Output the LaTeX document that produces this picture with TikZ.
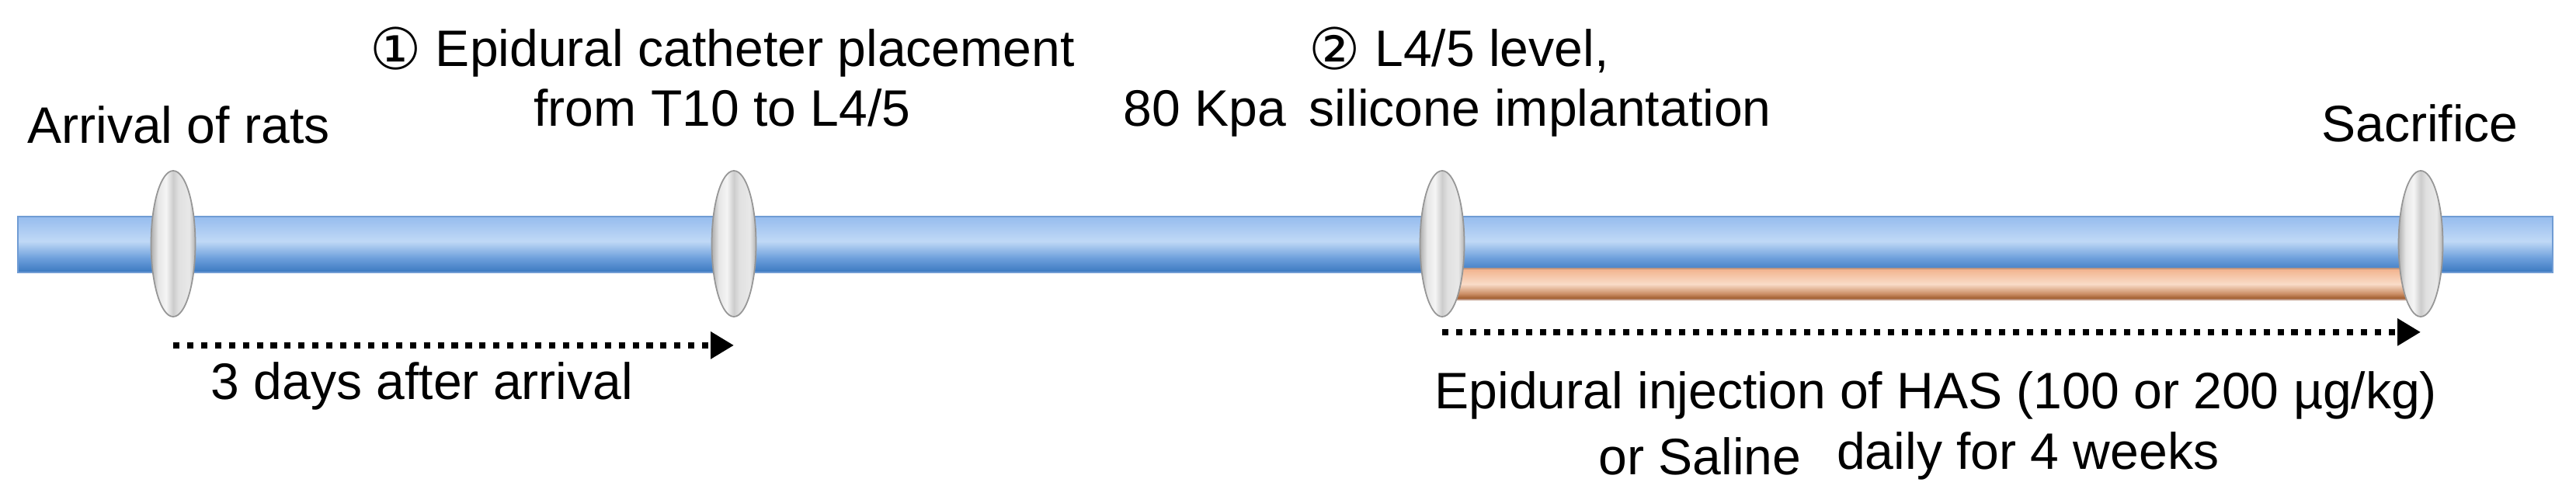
\documentclass[tikz,border=0pt]{standalone}
\usepackage{fontspec}
\setmainfont{Liberation Sans}
\newfontfamily\circfont{DejaVu Sans}
\usepackage{tikz}
\usetikzlibrary{shapes.geometric,arrows.meta}

\definecolor{barline}{RGB}{112,156,212}
\definecolor{blueD}{RGB}{58,120,192}
\definecolor{blueM}{RGB}{110,160,220}
\definecolor{blueL}{RGB}{192,217,246}
\definecolor{blueT}{RGB}{150,188,238}
\definecolor{copD}{RGB}{150,80,32}
\definecolor{copM}{RGB}{205,145,105}
\definecolor{copL}{RGB}{249,220,200}
\definecolor{copT}{RGB}{242,178,140}
\definecolor{copline}{RGB}{190,150,130}
\definecolor{discline}{RGB}{150,150,150}

\pgfdeclareverticalshading{bluebar}{100bp}{color(0bp)=(blueD); color(25bp)=(blueD);
  color(38bp)=(blueM); color(53bp)=(blueL); color(75bp)=(blueT); color(100bp)=(blueT)}
\pgfdeclareverticalshading{copperbar}{100bp}{color(0bp)=(copD); color(25bp)=(copD);
  color(35bp)=(copM); color(50bp)=(copL); color(75bp)=(copT); color(100bp)=(copT)}
\pgfdeclarehorizontalshading{silver}{100bp}{color(0bp)=(black!32); color(25bp)=(black!32);
  color(33bp)=(black!10); color(42bp)=(black!4); color(50bp)=(black!20);
  color(56bp)=(black!12); color(68bp)=(black!9); color(75bp)=(black!30); color(100bp)=(black!30)}

\newcommand{\circnum}[1]{\raisebox{-0.06em}{\scalebox{1.12}{\circfont #1}}}

\begin{document}
\begin{tikzpicture}
    [bar/.style={shade,shading=bluebar,draw=barline,line width=0.6pt},
    copper bar/.style={shade,shading=copperbar,draw=copline,line width=0.4pt},
    disc/.style={ellipse,shade,shading=silver,draw=discline,line width=0.5pt,
      minimum width=0.57cm,minimum height=1.88cm,inner sep=0pt},
    day arrow/.style={line width=2.3pt,dash pattern=on 2.3pt off 2.8pt,
      -{Triangle[length=8.5pt,width=9.5pt]}},
    note/.style={inner sep=0pt,font=\fontsize{18.8pt}{22pt}\selectfont}]

\useasboundingbox (0,0) rectangle (33.17,6.48);

%time line
\path[bar] (0.23,2.97) rectangle (32.87,3.69);
\path[copper bar] (18.57,2.62) rectangle (31.17,3.02);

%time points
\node[disc] (t1) at (2.23,3.34) {};
\node[disc] (t2) at (9.45,3.34) {};
\node[disc] (t3) at (18.57,3.34) {};
\node[disc] (t4) at (31.17,3.34) {};

%periods
\draw[day arrow] ([yshift=-0.36cm]t1.south) -- ([yshift=-0.36cm]t2.south);
\draw[day arrow] ([yshift=-0.19cm]t3.south) -- ([yshift=-0.19cm]t4.south);

%labels above (base = last line)
\node[note,anchor=base] (arrival) at (2.30,4.63) {Arrival of rats};
\node[note,anchor=base,align=center] (cath) at (9.30,4.85)
  {\circnum{①} Epidural catheter placement\\from T10 to L4/5};
\node[note,anchor=base west,align=left] (silicone) at (16.85,4.85)
  {\circnum{②} L4/5 level,\\silicone implantation};
\node[note,anchor=base east] (kpa) at (16.57,4.85) {80 Kpa};
\node[note,anchor=base] (sacrifice) at (31.16,4.65) {Sacrifice};

%labels below
\node[note,anchor=base west] (days) at (2.71,1.33) {3 days after arrival};
\node[note,anchor=base west] (inj) at (18.47,1.21) {Epidural injection of HAS (100 or 200 µg/kg)};
\node[note,anchor=base west] (saline) at (20.58,0.36) {or Saline};
\node[note,anchor=base east] (daily) at (28.58,0.43) {daily for 4 weeks};

\end{tikzpicture}
\end{document}
